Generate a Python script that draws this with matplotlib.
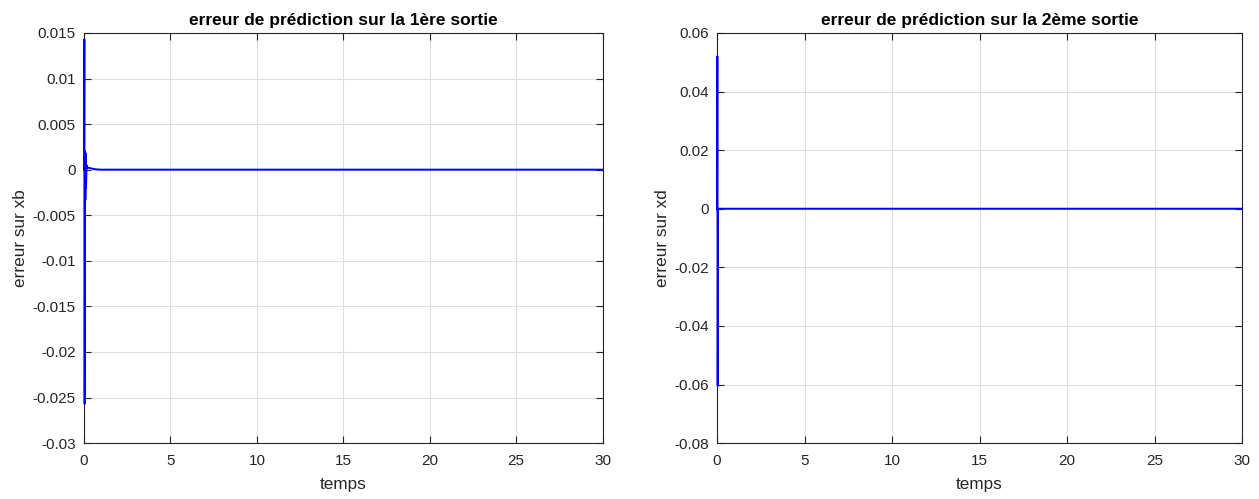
import matplotlib.pyplot as plt

plt.rcParams['font.family'] = ['Liberation Sans', 'DejaVu Sans']

# 1ere sortie
t1 = [0, 0.02, 0.04, 0.06, 0.08, 0.1, 0.12, 0.15, 0.2, 0.3, 0.45, 0.6, 0.8, 1.0, 30]
e1 = [0, 0.0143, -0.0257, 0.002, -0.0033, 0.0018, -0.002, 0.0005, 0.0002,
      0.0002, 0.00012, 0.00006, 0.00002, 0, 0]

# 2eme sortie
t2 = [0, 0.02, 0.04, 0.06, 0.08, 30]
e2 = [0, 0.052, -0.0605, 0, 0, 0]

xticks = [0, 5, 10, 15, 20, 25, 30]
yticks1 = [-0.03, -0.025, -0.02, -0.015, -0.01, -0.005, 0, 0.005, 0.01, 0.015]
yticks2 = [-0.08, -0.06, -0.04, -0.02, 0, 0.02, 0.04, 0.06]
ylabels1 = ['-0.03', '-0.025', '-0.02', '-0.015', '-0.01', '-0.005', '0', '0.005', '0.01', '0.015']
ylabels2 = ['-0.08', '-0.06', '-0.04', '-0.02', '0', '0.02', '0.04', '0.06']

fig = plt.figure(figsize=(12.59, 4.99), dpi=100)
ax1 = fig.add_axes([0.0667, 0.112, 0.412, 0.822])
ax2 = fig.add_axes([0.5695, 0.112, 0.417, 0.822])

gray = '#262626'


def style(ax, title, ylabel, yticks, ylabels, ylim):
    ax.set_xlim(0, 30)
    ax.set_ylim(*ylim)
    ax.set_xticks(xticks)
    ax.set_xticklabels([str(x) for x in xticks])
    ax.set_yticks(yticks)
    ax.set_yticklabels(ylabels)
    ax.grid(True, color='#dfdfdf', linewidth=0.8)
    ax.set_axisbelow(True)
    ax.tick_params(direction='in', top=True, right=True, length=5, width=0.8,
                   colors=gray, labelsize=11, labelcolor=gray)
    ax.tick_params(axis='x', pad=8)
    ax.tick_params(axis='y', pad=6)
    for s in ax.spines.values():
        s.set_color(gray)
        s.set_linewidth(0.8)
    ax.set_title(title, fontsize=12.5, fontweight='bold', pad=6)
    ax.set_xlabel('temps', fontsize=12.3, color=gray, labelpad=6)
    ax.set_ylabel(ylabel, fontsize=12.3, color=gray, labelpad=3)


ax1.plot(t1, e1, color='#0000ff', linewidth=1.4, zorder=5, clip_on=False)
style(ax1, 'erreur de prédiction sur la 1ère sortie', 'erreur sur xb',
      yticks1, ylabels1, (-0.03, 0.015))

ax2.plot(t2, e2, color='#0000ff', linewidth=1.4, zorder=5, clip_on=False)
style(ax2, 'erreur de prédiction sur la 2ème sortie', 'erreur sur xd',
      yticks2, ylabels2, (-0.08, 0.06))

fig.savefig('out.png', dpi=100)
